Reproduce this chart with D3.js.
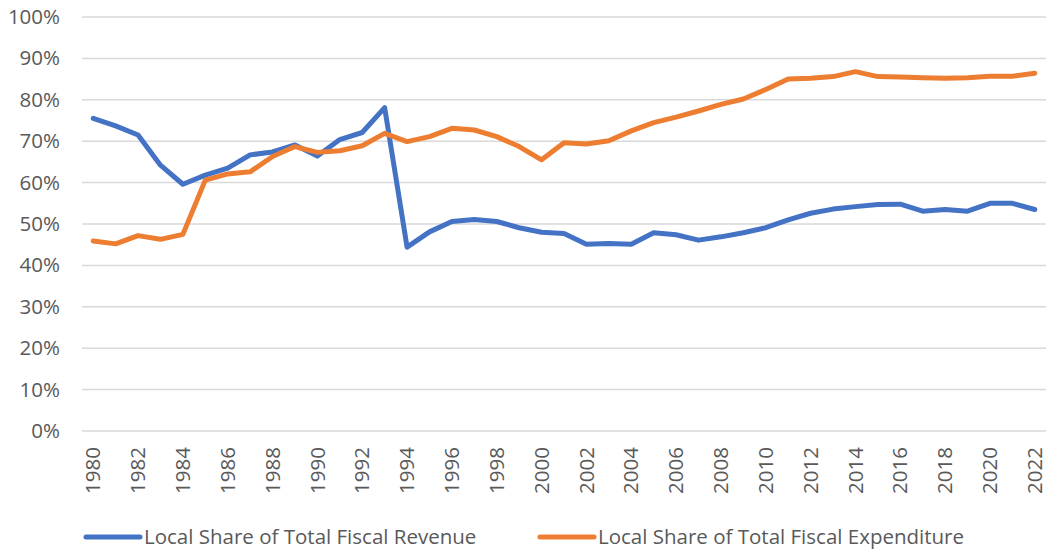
<!DOCTYPE html>
<html>
<head>
<meta charset="utf-8">
<script src="https://cdn.jsdelivr.net/npm/d3@7"></script>
<style>
  body { margin: 0; background: #fff; }
  text { font-family: "Open Sans", sans-serif; fill: #595959; }
</style>
</head>
<body>
<div id="chart"></div>
<script>
// years on the category axis
var years = d3.range(1980, 2023)
// local share of total fiscal revenue (%)
var revenue = [75.5, 73.7, 71.5, 64.2, 59.6, 61.8, 63.5, 66.7, 67.4, 69.1, 66.4, 70.4, 72.1, 78.1,
    44.4, 48.1, 50.6, 51.1, 50.6, 49.1, 48.0, 47.7, 45.1, 45.3, 45.1, 47.9, 47.4, 46.1, 46.9,
    47.9, 49.1, 51.0, 52.6, 53.6, 54.2, 54.7, 54.8, 53.1, 53.5, 53.1, 55.0, 55.0, 53.5]
// local share of total fiscal expenditure (%)
var expenditure = [45.9, 45.2, 47.2, 46.3, 47.5, 60.6, 62.1, 62.6, 66.3, 68.7, 67.3, 67.7, 68.9, 71.9,
    69.9, 71.1, 73.1, 72.7, 71.1, 68.7, 65.5, 69.6, 69.3, 70.1, 72.5, 74.5, 75.8, 77.3, 78.9,
    80.2, 82.5, 85.0, 85.2, 85.6, 86.8, 85.6, 85.5, 85.3, 85.2, 85.3, 85.7, 85.7, 86.4]
var seriesNames = ["Local Share of Total Fiscal Revenue", "Local Share of Total Fiscal Expenditure"]
var seriesColors = ["#4472C4", "#ED7D31"]
var yTicks = d3.range(0, 101, 10)

const width = 1054
const height = 550
var plot = { left: 82, right: 1046, top: 17, bottom: 431 }
const fontSize = "20.5px"

const svg = d3.select("#chart").append("svg")
    .attr("width", width)
    .attr("height", height)

var x = d3.scaleBand()
    .domain(years)
    .range([plot.left, plot.right])
    .padding(0)
var y = d3.scaleLinear()
    .domain([0, 100])
    .range([plot.bottom, plot.top])

// gridlines
svg.append("g")
    .selectAll("line")
    .data(yTicks)
    .join("line")
    .attr("x1", plot.left)
    .attr("x2", plot.right)
    .attr("y1", d => y(d))
    .attr("y2", d => y(d))
    .attr("stroke", "#d9d9d9")
    .attr("stroke-width", 1.5)

// y axis labels
const yAxis = svg.append("g")
    .attr("transform", "translate(" + plot.left + ",0)")
    .call(d3.axisLeft(y).tickValues(yTicks).tickFormat(d => d + "%").tickSize(0).tickPadding(22))
yAxis.select(".domain").remove()
yAxis.selectAll("text")
    .style("font-size", fontSize)
    .attr("fill", "#595959")

// x axis labels, every other year, rotated
const xAxis = svg.append("g")
    .attr("transform", "translate(0," + plot.bottom + ")")
    .call(d3.axisBottom(x).tickValues(years.filter(d => d % 2 == 0)).tickSize(0))
xAxis.select(".domain").remove()
xAxis.selectAll("text")
    .style("font-size", fontSize)
    .attr("fill", "#595959")
    .attr("text-anchor", "end")
    .attr("transform", "rotate(-90)")
    .attr("x", -16)
    .attr("y", 0)
    .attr("dy", "0.35em")

// lines
var line = d3.line()
    .x((d, i) => x(years[i]) + x.bandwidth() / 2)
    .y(d => y(d))
svg.append("g")
    .attr("fill", "none")
    .attr("stroke-width", 5)
    .attr("stroke-linejoin", "round")
    .attr("stroke-linecap", "round")
    .selectAll("path")
    .data([revenue, expenditure])
    .join("path")
    .attr("stroke", (d, i) => seriesColors[i])
    .attr("d", line)

// legend
var legendX = [86, 540]
const legend = svg.append("g")
    .selectAll("g")
    .data(seriesNames)
    .join("g")
    .attr("transform", (d, i) => "translate(" + legendX[i] + ",537)")
legend.append("line")
    .attr("x1", 0)
    .attr("x2", 54)
    .attr("stroke", (d, i) => seriesColors[i])
    .attr("stroke-width", 5)
    .attr("stroke-linecap", "round")
legend.append("text")
    .attr("x", 58)
    .attr("dy", "0.35em")
    .style("font-size", fontSize)
    .text(d => d)
</script>
</body>
</html>
